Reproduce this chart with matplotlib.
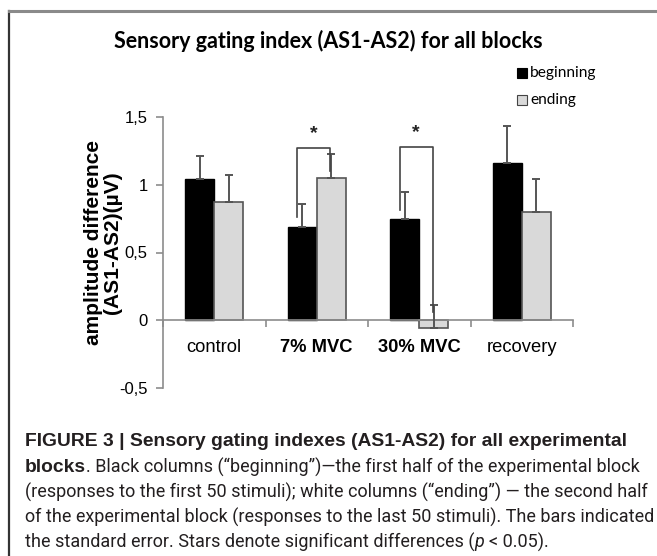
import matplotlib
matplotlib.use("Agg")
import matplotlib.pyplot as plt
import matplotlib.transforms as mtransforms
from matplotlib.lines import Line2D
from matplotlib.patches import Rectangle
import numpy as np

categories = ["control", "7% MVC", "30% MVC", "recovery"]
category_bold = [False, True, True, False]
beginning = [1.04, 0.69, 0.75, 1.16]
beginning_se = [0.17, 0.17, 0.20, 0.27]
ending = [0.87, 1.05, -0.06, 0.80]
ending_se = [0.20, 0.18, 0.17, 0.24]
ytick_values = [-0.5, 0, 0.5, 1, 1.5]
ytick_labels = ["-0,5", "0", "0,5", "1", "1,5"]
# significance brackets: (category index, left leg bottom, right leg bottom, top)
brackets = [(1, 0.76, 1.10, 1.27), (2, 0.81, 0.06, 1.28)]

W, H = 657, 556
fig = plt.figure(figsize=(W / 100, H / 100), dpi=100)

def fx(px):
    return px / W

def fy(py):
    return 1 - py / H

# outer frame
fig.add_artist(Line2D([fx(9), fx(9)], [fy(11), fy(556)], color="#333333", lw=1.6))
fig.add_artist(Line2D([fx(9), 1.0], [fy(11), fy(11)], color="#8a8a8a", lw=2.2))

ax = fig.add_axes([fx(163), fy(388), fx(573) - fx(163), fy(117) - fy(388)])
ax.set_xlim(-0.5, 3.5)
ax.set_ylim(-0.5, 1.5)

x = np.arange(len(categories))
bw = 0.285
ax.bar(x - bw / 2, beginning, bw, color="black", edgecolor="black", lw=1, zorder=2)
ax.bar(x + bw / 2, ending, bw, color="#d9d9d9", edgecolor="#555555", lw=1.2, zorder=2)

ax.errorbar(x - bw / 2, beginning, yerr=[np.zeros(4), beginning_se], fmt="none",
            ecolor="#555555", elinewidth=1.4, capsize=3, capthick=1.4, zorder=3)
ax.errorbar(x + bw / 2, ending, yerr=[np.zeros(4), ending_se], fmt="none",
            ecolor="#555555", elinewidth=1.4, capsize=3, capthick=1.4, zorder=3)

for ci, lb, rb, top in brackets:
    xl = ci - 0.19
    xr = ci + 0.13
    ax.plot([xl, xl, xr, xr], [lb, top, top, rb], color="#444444", lw=1.2, zorder=4)
    ax.text((xl + xr) / 2, top + 0.045, "*", ha="center", va="bottom",
            fontsize=14, fontweight="bold", color="#222222", family="Liberation Sans")

# spines
for s in ["top", "right"]:
    ax.spines[s].set_visible(False)
ax.spines["left"].set_color("#8c8c8c")
ax.spines["left"].set_linewidth(1.2)
ax.spines["bottom"].set_position(("data", 0))
ax.spines["bottom"].set_color("#8c8c8c")
ax.spines["bottom"].set_linewidth(1.2)

ax.set_yticks(ytick_values)
ax.set_yticklabels(ytick_labels, family="Liberation Sans", fontsize=12)
ax.tick_params(axis="y", direction="out", length=5, color="#8c8c8c", width=1.2, pad=6)
ax.set_xticks([-0.5, 0.5, 1.5, 2.5, 3.5])
ax.set_xticklabels([])
ax.tick_params(axis="x", direction="out", length=5, color="#8c8c8c", width=1.2)

trans = mtransforms.blended_transform_factory(ax.transData, ax.transData)
for xi, name, bold in zip(x, categories, category_bold):
    ax.text(xi, -0.2, name, ha="center", va="center", transform=trans,
            fontsize=13.2, fontweight="bold" if bold else "normal",
            family="Liberation Sans", color="black")

# y label
fig.text(fx(103), fy(243), "amplitude difference\n(AS1-AS2)(µV)", rotation=90,
         ha="center", va="center", fontsize=15, fontweight="bold",
         family="Liberation Sans", linespacing=0.95)

# title
fig.text(fx(328), fy(41), "Sensory gating index (AS1-AS2) for all blocks", ha="center",
         va="center", fontsize=15.5, fontweight="bold", family="Lato")

# legend
fig.add_artist(Rectangle((fx(517), fy(78)), fx(10), fy(0) - fy(10), facecolor="black",
                         edgecolor="black", lw=0.8))
fig.add_artist(Rectangle((fx(517), fy(105)), fx(10), fy(0) - fy(10), facecolor="#d9d9d9",
                         edgecolor="#444444", lw=0.8))
fig.text(fx(530), fy(73), "beginning", ha="left", va="center", fontsize=11.2, family="Lato")
fig.text(fx(530), fy(100), "ending", ha="left", va="center", fontsize=11.2, family="Lato")

# caption
cap_family = ["Roboto", "DejaVu Sans"]
bold_family = ["Liberation Sans", "DejaVu Sans"]
cap_size = 13
bold_size = 13.9
renderer = fig.canvas.get_renderer()

def seg_line(y_px, segments):
    xpos = fx(25)
    for txt, weight, style, gap in segments:
        bold = weight == "bold"
        t = fig.text(xpos + fx(gap), fy(y_px), txt, ha="left", va="center",
                     fontsize=bold_size if bold else cap_size,
                     fontweight=weight, style=style,
                     family=bold_family if bold else cap_family, color="#231f20")
        bb = t.get_window_extent(renderer=renderer)
        xpos = (bb.x1) / fig.bbox.width

seg_line(441, [("FIGURE 3 | Sensory gating indexes (AS1-AS2) for all experimental", "bold", "normal", 0)])
seg_line(467, [("blocks", "bold", "normal", 0),
               (". Black columns (“beginning”)—the first half of the experimental block", "normal", "normal", 0)])
seg_line(492, [("(responses to the first 50 stimuli); white columns (“ending”) — the second half", "normal", "normal", 0)])
seg_line(517, [("of the experimental block (responses to the last 50 stimuli). The bars indicated", "normal", "normal", 0)])
seg_line(542, [("the standard error. Stars denote significant differences (", "normal", "normal", 0),
               ("p", "normal", "italic", 0),
               ("< 0.05).", "normal", "normal", 5)])

fig.savefig("out.png", dpi=100)
